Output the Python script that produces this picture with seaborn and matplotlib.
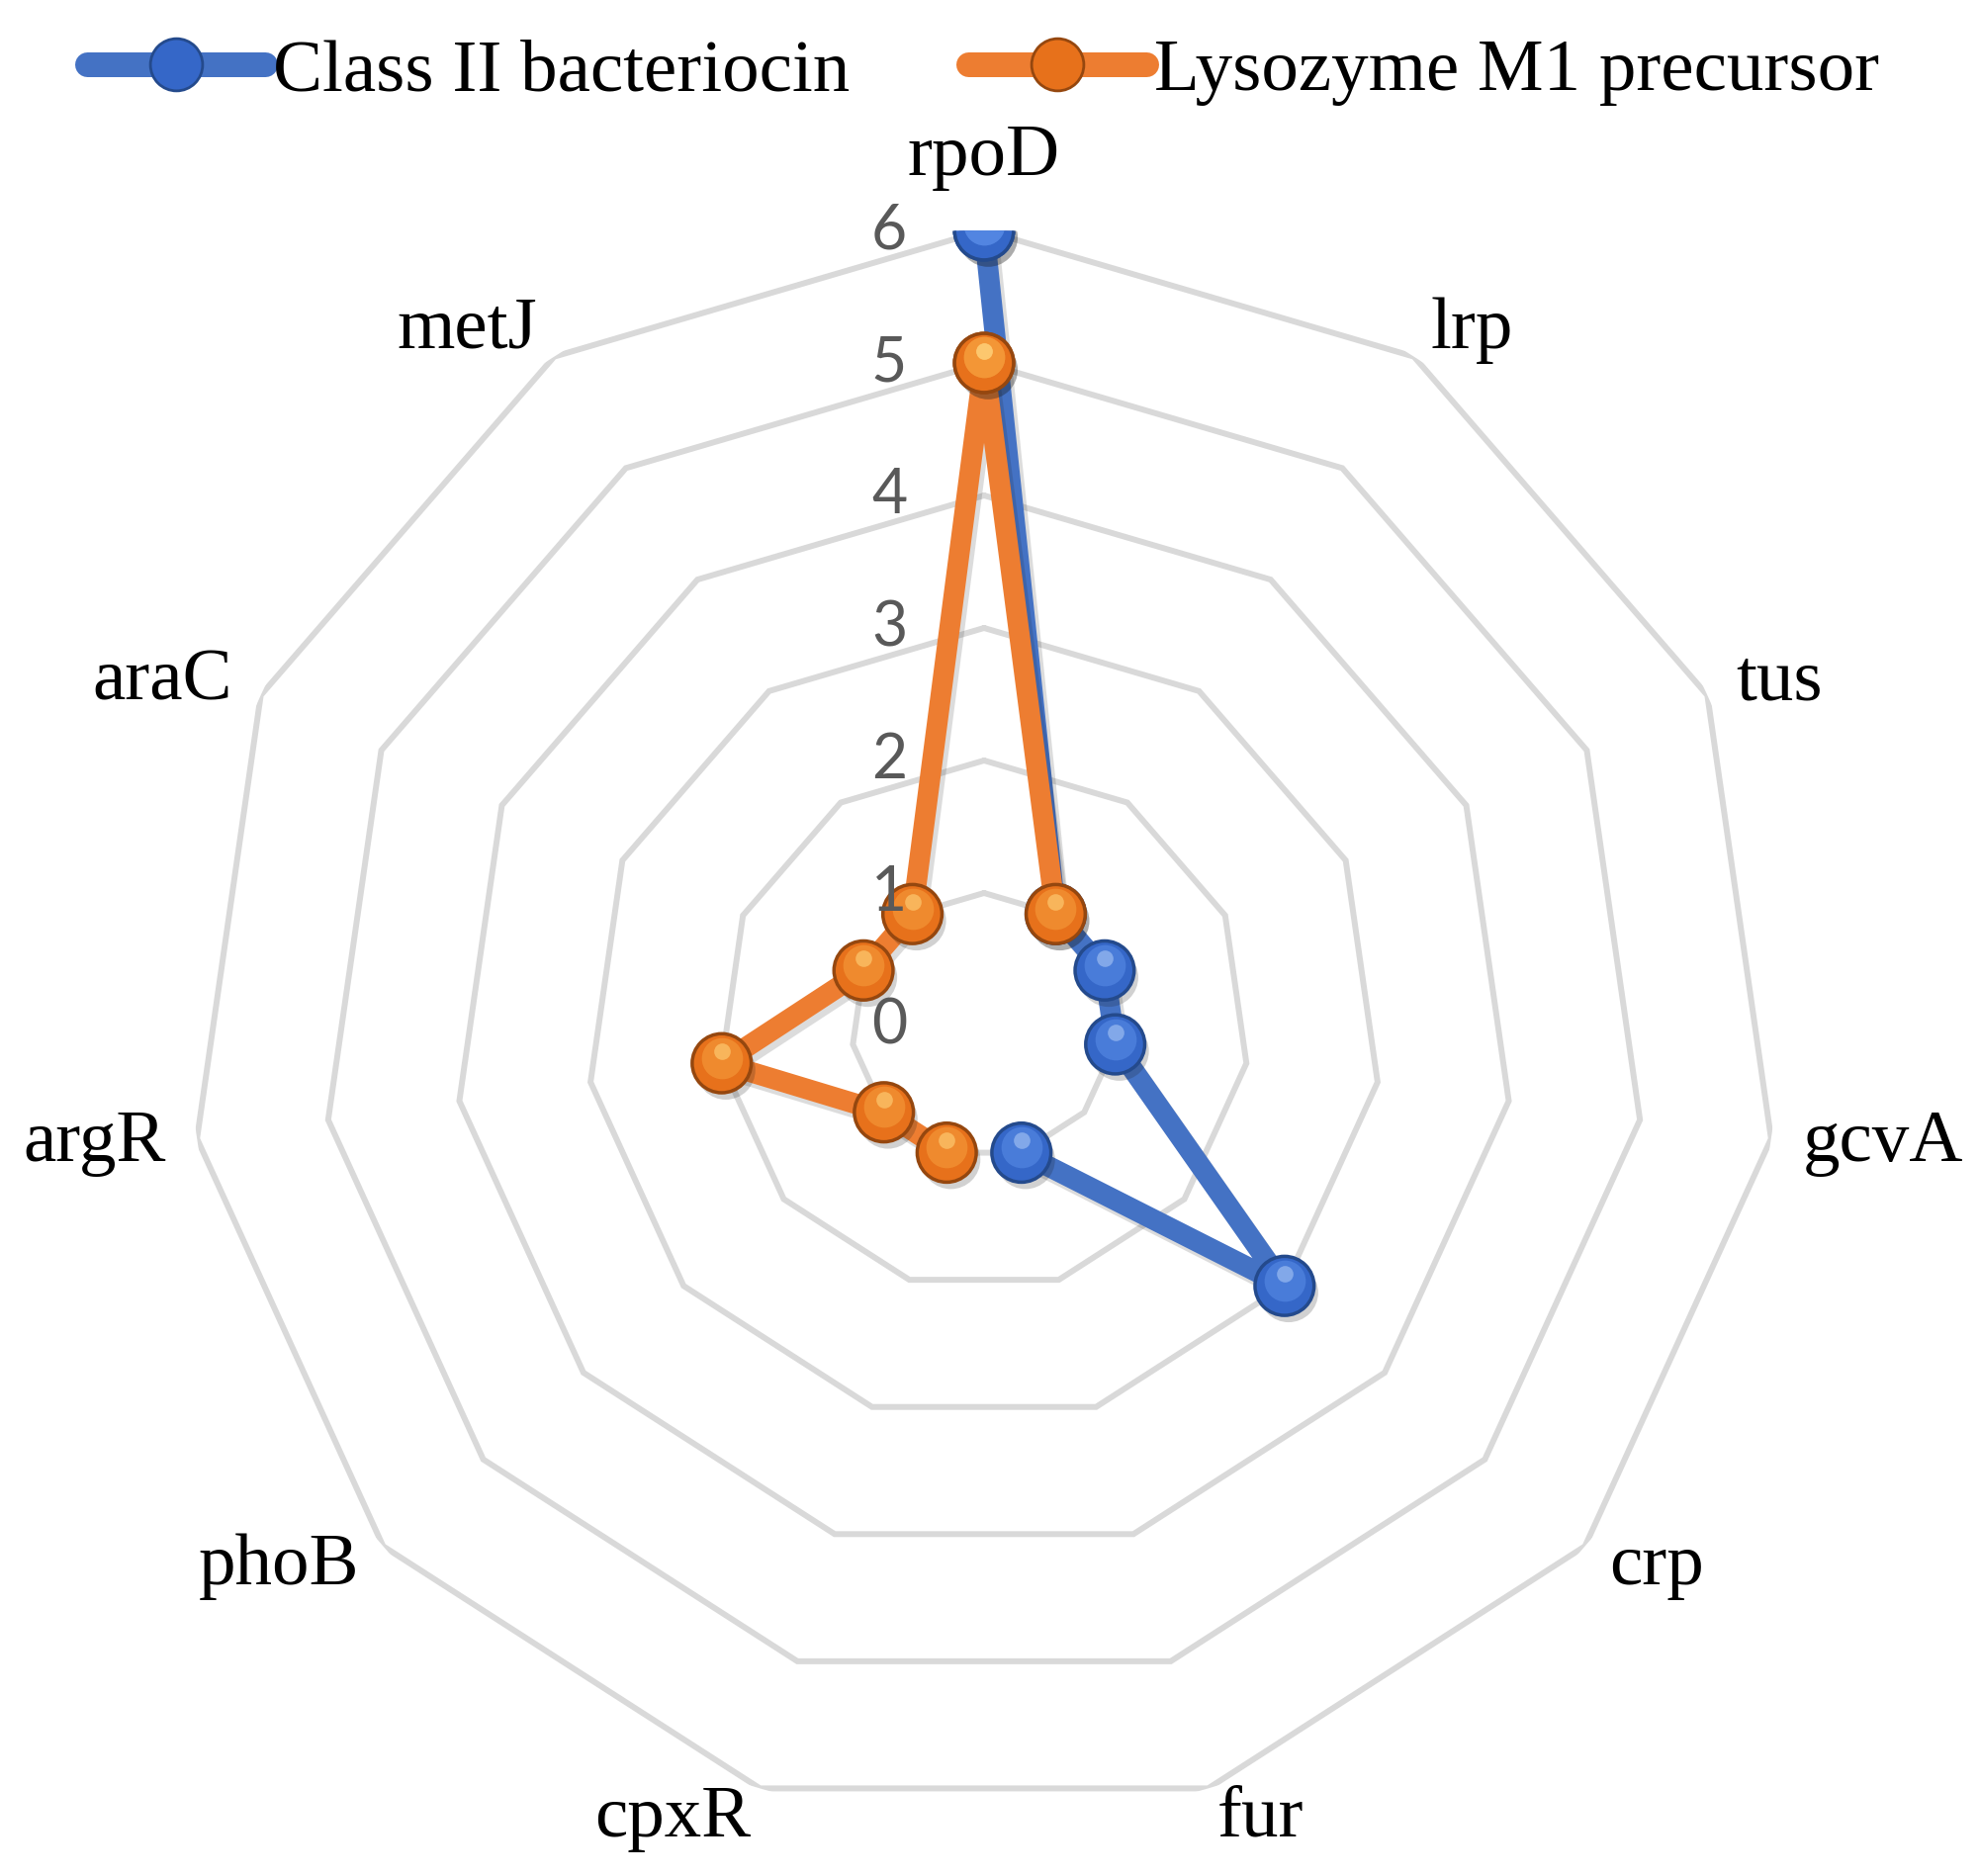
import numpy as np
import matplotlib
matplotlib.use("Agg")
import matplotlib.pyplot as plt
import matplotlib.patheffects as pe
from matplotlib.lines import Line2D
from matplotlib.transforms import ScaledTranslation
import seaborn as sns

# ---- data ----
categories = ["rpoD", "lrp", "tus", "gcvA", "crp", "fur",
              "cpxR", "phoB", "argR", "araC", "metJ"]
class2_bacteriocin = [6, 1, 1, 1, 3, 1, np.nan, np.nan, np.nan, np.nan, np.nan]
lysozyme_m1 = [5, 1, np.nan, np.nan, np.nan, np.nan, 1, 1, 2, 1, 1]
series_names = ["Class II bacteriocin", "Lysozyme M1 precursor"]
r_ticks = [0, 1, 2, 3, 4, 5, 6]

sns.set_theme(style="white")
plt.rcParams['font.family'] = ['Liberation Serif', 'DejaVu Serif']
plt.rcParams['text.color'] = 'black'

W, H = 2001, 1897
fig = plt.figure(figsize=(W / 100, H / 100), dpi=100)
fig.patch.set_facecolor("white")
cx, cy, R = 995, 1037, 804
ax = fig.add_axes([(cx - R) / W, (H - cy - R) / H, 2 * R / W, 2 * R / H],
                  projection='polar')
ax.set_theta_offset(np.pi / 2)
ax.set_theta_direction(-1)
ax.set_ylim(0, r_ticks[-1])
ax.grid(False)
ax.spines['polar'].set_visible(False)
ax.set_xticks([])
ax.set_yticks([])
ax.patch.set_alpha(0)

n = len(categories)
theta = np.arange(n) * 2 * np.pi / n
theta_c = np.append(theta, theta[0])

# polygon grid rings
for v in r_ticks[1:]:
    ax.plot(theta_c, np.full(n + 1, v), color='#d9d9d9', lw=4.3, zorder=1,
            solid_joinstyle='miter')

styles = [
    dict(line='#4472C4', face='#3567c8', edge='#244a8c', hi1='#5a8ee8', hi2='#a9c6f5'),
    dict(line='#ED7D31', face='#e7711b', edge='#95470f', hi1='#f7a03e', hi2='#ffd27a'),
]

handles = []
for vals, st, name, z in zip([class2_bacteriocin, lysozyme_m1], styles,
                             series_names, [3, 6]):
    v = np.append(vals, vals[0])
    ax.plot(theta_c, v, color=st['line'], lw=15, solid_capstyle='butt',
            solid_joinstyle='round', zorder=z,
            path_effects=[pe.SimpleLineShadow(offset=(3, -4), shadow_color='k', alpha=0.15),
                          pe.Normal()])
    ax.plot(theta_c, v, ls='none', marker='o', ms=43, mfc=st['face'],
            mec=st['edge'], mew=2.5, zorder=z + 0.1,
            path_effects=[pe.SimplePatchShadow(offset=(3, -5), shadow_rgbFace='k', alpha=0.2),
                          pe.Normal()])
    tr1 = ax.transData + ScaledTranslation(0, 4 / 72, fig.dpi_scale_trans)
    ax.plot(theta_c, v, ls='none', marker='o', ms=30, mfc=st['hi1'], mec='none',
            alpha=0.55, transform=tr1, zorder=z + 0.2)
    tr2 = ax.transData + ScaledTranslation(0, 9 / 72, fig.dpi_scale_trans)
    ax.plot(theta_c, v, ls='none', marker='o', ms=12, mfc=st['hi2'], mec='none',
            alpha=0.6, transform=tr2, zorder=z + 0.3)
    handles.append(Line2D([], [], color=st['line'], lw=18, solid_capstyle='round',
                          marker='o', ms=38, mfc=st['face'], mec=st['edge'], mew=2))

# category labels
for t, lab in zip(theta, categories):
    s, c = np.sin(t), np.cos(t)
    d = 53 if c > 0.99 else 23
    ha = 'left' if s > 0.05 else ('right' if s < -0.05 else 'center')
    ax.annotate(lab, xy=(t, r_ticks[-1]), xytext=(d * s, d * c),
                textcoords='offset points', ha=ha, va='center', fontsize=54,
                color='black', annotation_clip=False, zorder=20)

# radial tick labels
for v in r_ticks:
    ax.annotate(str(v), xy=(0, v), xytext=(-56, 0), textcoords='offset points',
                ha='right', va='center', fontsize=45, color='#595959',
                family=['Lato', 'DejaVu Sans'], annotation_clip=False, zorder=20)

leg = fig.legend(handles, series_names, loc='center', bbox_to_anchor=(994 / W, 1 - 73 / H),
                 ncol=2, frameon=False, fontsize=54, handlelength=2.4,
                 handletextpad=0.1, columnspacing=1.6, numpoints=1)
for txt in leg.get_texts():
    txt.set_color('black')

fig.savefig("out.png", dpi=100, facecolor="white")
